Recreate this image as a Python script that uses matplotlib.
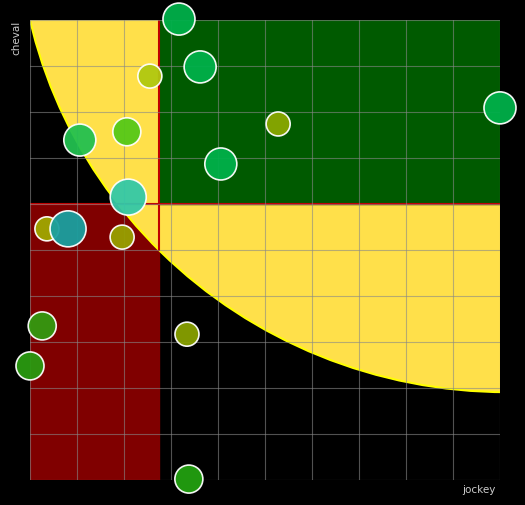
import numpy as np
import matplotlib.pyplot as plt
from matplotlib.patches import Rectangle, Circle

# bubble data (jockey, cheval, size, colour)
jockey = [3.17, 2.55, 3.62, 10.0, 5.28, 1.06, 2.06, 4.06, 2.09, 0.36, 0.81, 1.96, 0.26, 3.34, 0.0, 3.38]
cheval = [10.02, 8.78, 8.98, 8.09, 7.74, 7.39, 7.57, 6.87, 6.15, 5.46, 5.46, 5.28, 3.35, 3.17, 2.48, 0.02]
radius_px = [16, 12, 16, 16, 12, 16, 14, 16, 18, 12, 18, 12, 14, 12, 14, 14]
colors = ["#00b04a", "#b0c810", "#00b04a", "#00b04a", "#8aa800", "#22c050", "#55c818",
          "#00b04a", "#33c8a8", "#a0a800", "#1aa0a0", "#98a000", "#339a10", "#88a000",
          "#2a9a10", "#22a010"]

split_x = 2.74
split_y = 6.0
arc_center = (10.14, 12.31)
arc_r = 10.4

fig = plt.figure(figsize=(5.25, 5.05), dpi=100, facecolor="black")
ax = fig.add_axes([30 / 525, 25 / 505, 470 / 525, 460 / 505])
ax.set_facecolor("black")
ax.set_xlim(0, 10)
ax.set_ylim(0, 10)

ax.add_patch(Rectangle((0, 0), split_x, split_y, color="#800000", zorder=1))
yellow = Circle(arc_center, arc_r, facecolor="#ffe04a", edgecolor="yellow", lw=1.5, zorder=2)
ax.add_patch(yellow)
yellow.set_clip_path(Rectangle((0, 0), 10, 10, transform=ax.transData))
ax.add_patch(Rectangle((split_x, split_y), 10 - split_x, 10 - split_y, color="#005a00", zorder=3))

# red dividing lines inside the yellow zone
ax.plot([0, 10], [split_y, split_y], color="#c00000", lw=1.5, zorder=4)
y_cut = arc_center[1] - np.sqrt(arc_r ** 2 - (split_x - arc_center[0]) ** 2)
ax.plot([split_x, split_x], [y_cut, 10], color="#c00000", lw=1.5, zorder=4)

for v in np.arange(0, 11):
    ax.axvline(v, color="#888888", lw=0.8, alpha=0.6, zorder=5)
    ax.axhline(v, color="#888888", lw=0.8, alpha=0.6, zorder=5)

sizes = [(r * 72 / 100 * 2) ** 2 for r in radius_px]
ax.scatter(jockey, cheval, s=sizes, c=colors, edgecolors="white", linewidths=1.2,
           zorder=6, clip_on=False, alpha=0.95)

ax.set_xticks([])
ax.set_yticks([])
for s in ax.spines.values():
    s.set_visible(False)

fig.text(496 / 525, 1 - 490 / 505, "jockey", color="#cccccc", fontsize=7.5, ha="right", va="center")
fig.text(16 / 525, 1 - 38 / 505, "cheval", color="#cccccc", fontsize=7.5, rotation=90,
         ha="center", va="center")

fig.savefig("out.png", dpi=100, facecolor="black")
